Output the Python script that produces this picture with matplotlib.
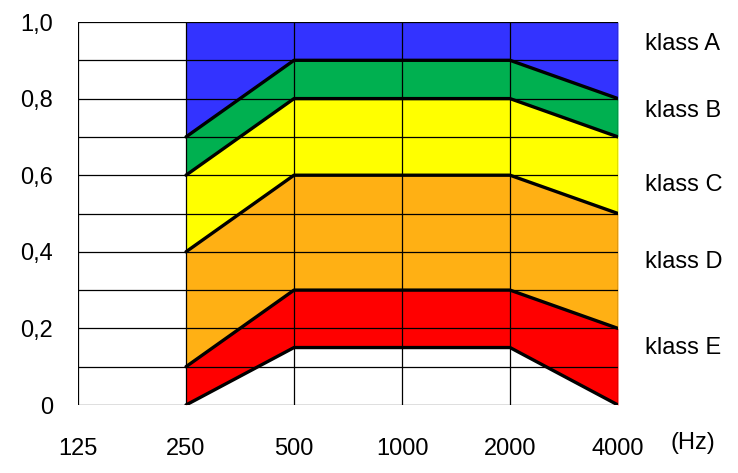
import numpy as np
import matplotlib.pyplot as plt

plt.rcParams['font.family'] = ['Liberation Sans', 'DejaVu Sans']

freq_labels = ['125', '250', '500', '1000', '2000', '4000']
band_freqs = ['250', '500', '1000', '2000', '4000']

# boundaries between classes, read at 250..4000 Hz
bound_E_low = [0.0, 0.15, 0.15, 0.15, 0.0]
bound_E_D = [0.1, 0.3, 0.3, 0.3, 0.2]
bound_D_C = [0.4, 0.6, 0.6, 0.6, 0.5]
bound_C_B = [0.6, 0.8, 0.8, 0.8, 0.7]
bound_B_A = [0.7, 0.9, 0.9, 0.9, 0.8]
bound_top = [1.0, 1.0, 1.0, 1.0, 1.0]

class_names = ['klass A', 'klass B', 'klass C', 'klass D', 'klass E']
class_label_y = [0.943, 0.768, 0.574, 0.373, 0.149]
class_colors = ['#3333ff', '#00b050', '#ffff00', '#ffb014', '#ff0000']

y_ticks = [0, 0.2, 0.4, 0.6, 0.8, 1.0]
y_tick_labels = ['0', '0,2', '0,4', '0,6', '0,8', '1,0']

fig = plt.figure(figsize=(7.38, 4.73), dpi=100)
ax = fig.add_axes([78 / 738, 1 - 405 / 473, 540 / 738, 383 / 473])

x_all = np.arange(len(freq_labels))
x = np.array([freq_labels.index(f) for f in band_freqs])

bounds = [bound_top, bound_B_A, bound_C_B, bound_D_C, bound_E_D, bound_E_low]
for i, col in enumerate(class_colors):
    ax.fill_between(x, bounds[i + 1], bounds[i], color=col, lw=0, zorder=1)

# thin grid on top of the fills
for yv in np.arange(0, 1.01, 0.1):
    ax.plot([x_all[0], x_all[-1]], [yv, yv], color='black', lw=0.9, zorder=2)
for xv in x_all:
    ax.plot([xv, xv], [0, 1], color='black', lw=0.9, zorder=2)

for b in bounds[1:]:
    ax.plot(x, b, color='black', lw=2.4, zorder=3, solid_capstyle='round')

for name, yl in zip(class_names, class_label_y):
    ax.text(5.25, yl, name, fontsize=17, va='center', ha='left', clip_on=False)

ax.set_xlim(0, 5)
ax.set_ylim(0, 1)
ax.set_xticks(x_all)
ax.set_xticklabels(freq_labels, fontsize=17)
ax.set_yticks(y_ticks)
ax.set_yticklabels(y_tick_labels, fontsize=17)
ax.tick_params(length=0)
ax.tick_params(axis='x', pad=24)
ax.tick_params(axis='y', pad=18)
for s in ax.spines.values():
    s.set_visible(False)

ax.text(5.69, -0.099, '(Hz)', fontsize=17, ha='center', va='center', clip_on=False)

fig.savefig('out.png', dpi=100)
